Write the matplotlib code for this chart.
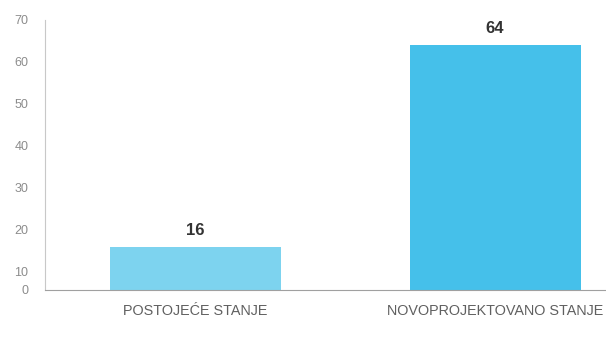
import matplotlib.pyplot as plt

# data
categories = ['POSTOJEĆE STANJE', 'NOVOPROJEKTOVANO STANJE']
values = [16, 64]
bar_colors = ['#7dd3ef', '#45c0ea']
ytick_vals = [10, 20, 30, 40, 50, 60, 70]

plt.rcParams['font.family'] = ['Liberation Sans', 'DejaVu Sans']

# the source image is cut just above zero: the baseline sits at about 5.7
# on the value scale, and the "0" label is drawn on it
y_base = 5.7

fig = plt.figure(figsize=(6.06, 3.45), dpi=100)
# axes deliberately runs past the right edge, like the cropped original
ax = fig.add_axes([45/606, 55/345, 600/606, 270/345])

x = range(len(categories))
ax.bar(x, [v - y_base for v in values], bottom=y_base, width=0.57,
       color=bar_colors, zorder=2)

for xi, v in zip(x, values):
    ax.text(xi, v + 2.2, str(v), ha='center', va='bottom',
            fontsize=12, fontweight='bold', color='#333333')

ax.set_xlim(-0.5, 1.5)
ax.set_ylim(y_base, 70)
ax.set_yticks([y_base] + ytick_vals)
ax.set_yticklabels(['0'] + [str(t) for t in ytick_vals])
ax.set_xticks(list(x))
ax.set_xticklabels(categories)

ax.tick_params(axis='y', length=0, pad=12, labelsize=9, labelcolor='#8c8c8c')
ax.tick_params(axis='x', length=0, pad=10, labelsize=10.4, labelcolor='#606060')

for s in ['top', 'right']:
    ax.spines[s].set_visible(False)
ax.spines['left'].set_color('#c8c8c8')
ax.spines['bottom'].set_color('#a0a0a0')
ax.spines['left'].set_linewidth(0.8)
ax.spines['bottom'].set_linewidth(0.8)

fig.savefig('out.png', dpi=100)
